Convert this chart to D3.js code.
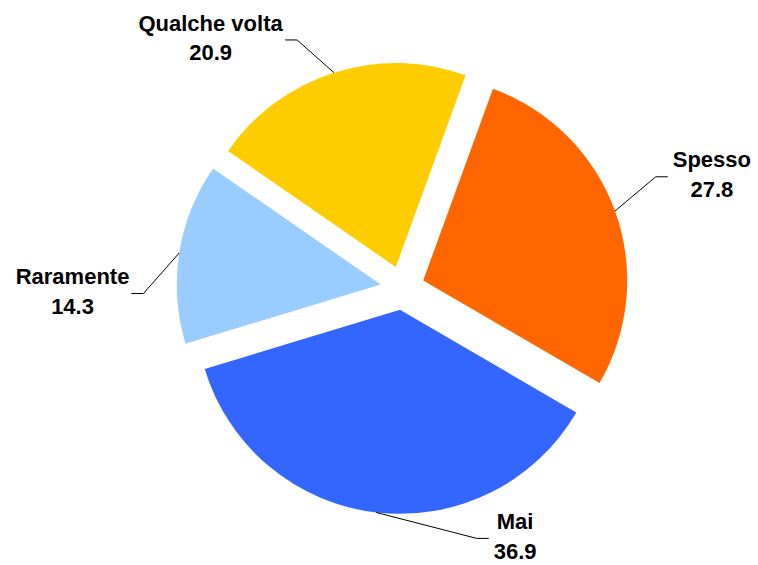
<!DOCTYPE html>
<html>
<head>
<meta charset="utf-8">
<script src="https://cdn.jsdelivr.net/npm/d3@7"></script>
<style>
  html, body { margin: 0; padding: 0; background: #fff; }
  svg { display: block; }
  .lbl { font-family: "Liberation Sans", Arial, sans-serif; font-weight: bold; font-size: 22px; fill: #000; }
</style>
</head>
<body>
<svg id="chart" width="758" height="565"></svg>
<script>
// ---- DATA ----
const categories = ["Spesso", "Mai", "Raramente", "Qualche volta"];
const values = [27.8, 36.9, 14.3, 20.9];
const colors = ["#FF6600", "#3366FF", "#99CCFF", "#FFCC00"];

// label placement (polar, relative to each exploded slice centre): degrees, px
const labelAngles = [69.8, 153, 268.8, 321.1];
const labelRadii = [307.6, 253.7, 308.3, 295];

// ---- LAYOUT ----
const width = 758, height = 565;
const cx = 402.5, cy = 288;
const radius = 204;
const explode = 22;
const lineGap = 29.5;
const capH = 15.75;

const svg = d3.select("#chart");
const g = svg.append("g").attr("transform", `translate(${cx},${cy})`);

const rad = deg => deg * Math.PI / 180;

const pie = d3.pie()
  .sort(null)
  .value(d => d.value)
  .startAngle(rad(20))
  .endAngle(rad(20) + 2 * Math.PI);

const arc = d3.arc().innerRadius(0).outerRadius(radius);

const rows = categories.map((c, i) => ({ name: c, value: values[i], color: colors[i], i }));
const arcs = pie(rows);

arcs.forEach(a => {
  const mid = (a.startAngle + a.endAngle) / 2;
  a.mid = mid;
  a.ox = Math.sin(mid) * explode;
  a.oy = -Math.cos(mid) * explode;
});

// slices
g.selectAll("path.slice")
  .data(arcs)
  .join("path")
  .attr("class", "slice")
  .attr("transform", d => `translate(${d.ox},${d.oy})`)
  .attr("d", arc)
  .attr("fill", d => d.data.color)
  .attr("stroke", "none");

// labels + leader lines
arcs.forEach(a => {
  const i = a.data.i;
  const la = rad(labelAngles[i]);
  const lx = a.ox + Math.sin(la) * labelRadii[i];
  const ly = a.oy - Math.cos(la) * labelRadii[i];

  const t = g.append("text")
    .attr("class", "lbl")
    .attr("text-anchor", "middle");
  t.append("tspan")
    .attr("x", lx)
    .attr("y", ly - (capH + lineGap) / 2 + capH)
    .text(a.data.name);
  t.append("tspan")
    .attr("x", lx)
    .attr("y", ly - (capH + lineGap) / 2 + capH + lineGap)
    .text(d3.format(".1f")(a.data.value));

  const bw = t.node().getBBox().width;

  // point on the arc at mid-angle
  const px = a.ox + Math.sin(a.mid) * radius;
  const py = a.oy - Math.cos(a.mid) * radius;
  const lineY = ly + 2.5;

  let endX, elbowX;
  if (lx > px) {
    endX = lx - bw / 2 - 5;
    elbowX = endX - 12;
  } else {
    endX = lx + bw / 2 + 2;
    elbowX = endX + 12;
  }

  g.append("path")
    .attr("d", d3.line()([[px, py], [elbowX, lineY], [endX, lineY]]))
    .attr("fill", "none")
    .attr("stroke", "#000")
    .attr("stroke-width", 1);
});
</script>
</body>
</html>
